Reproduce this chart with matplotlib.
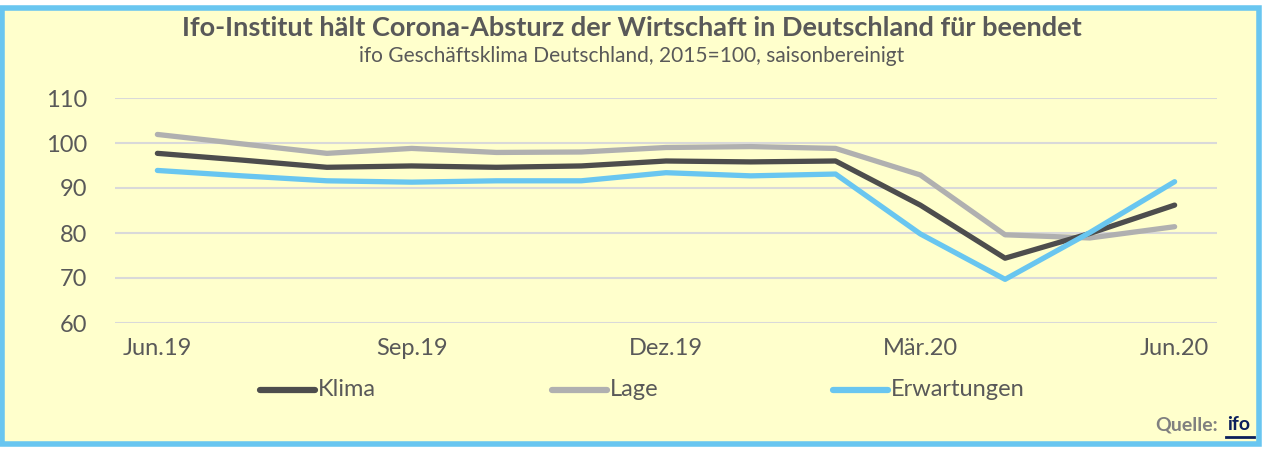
import matplotlib
matplotlib.use("Agg")
import matplotlib.pyplot as plt
from matplotlib.patches import Rectangle
from matplotlib.lines import Line2D

months = ["Jun.19", "Jul.19", "Aug.19", "Sep.19", "Okt.19", "Nov.19", "Dez.19",
          "Jan.20", "Feb.20", "Mär.20", "Apr.20", "Mai.20", "Jun.20"]
klima = [97.7, 96.2, 94.6, 94.9, 94.6, 94.9, 96.0, 95.8, 96.0, 86.2, 74.4, 79.9, 86.2]
lage = [101.9, 99.8, 97.7, 98.8, 97.9, 98.0, 99.0, 99.2, 98.8, 92.9, 79.6, 78.9, 81.4]
erwartungen = [93.9, 92.7, 91.6, 91.3, 91.6, 91.6, 93.4, 92.7, 93.1, 79.8, 69.7, 80.1, 91.4]
tick_idx = [0, 3, 6, 9, 12]
yticks = [60, 70, 80, 90, 100, 110]

FONT = ['Lato', 'DejaVu Sans']
plt.rcParams['font.family'] = FONT
TXT = "#595959"
BG = "#FFFFCC"

fig = plt.figure(figsize=(12.63, 4.5), dpi=100)
fig.patch.set_facecolor("white")
fig.patches.append(Rectangle((2.5/1263, 6/450), 1256/1263, 436/450, transform=fig.transFigure,
                             facecolor=BG, edgecolor="#69C6F0", linewidth=4, zorder=-5))

ax = fig.add_axes([115/1263, (450-323)/450, (1217-115)/1263, 225/450], zorder=2)
ax.set_facecolor("none")
x = list(range(len(months)))
ax.plot(x, klima, color="#4D4D4D", lw=3.8, solid_capstyle="round", clip_on=False, zorder=3)
ax.plot(x, lage, color="#B0B0B0", lw=3.8, solid_capstyle="round", clip_on=False, zorder=2)
ax.plot(x, erwartungen, color="#69C6F0", lw=3.8, solid_capstyle="round", clip_on=False, zorder=4)
ax.set_xlim(-0.5, len(months) - 0.5)
ax.set_ylim(60, 110)
ax.set_yticks(yticks)
ax.set_xticks(tick_idx)
ax.set_xticklabels([months[i] for i in tick_idx])
ax.grid(axis="y", color="#D9D9D9", lw=1.5)
ax.set_axisbelow(True)
for s in ax.spines.values():
    s.set_visible(False)
ax.tick_params(length=0, labelsize=17, colors=TXT)
ax.tick_params(axis="x", pad=11)
ax.tick_params(axis="y", pad=20)

fig.text(0.5, 1 - 28/450, "Ifo-Institut hält Corona-Absturz der Wirtschaft in Deutschland für beendet",
         ha="center", va="center", fontsize=19.5, fontweight="bold", color=TXT)
fig.text(0.5, 1 - 56/450, "ifo Geschäftsklima Deutschland, 2015=100, saisonbereinigt",
         ha="center", va="center", fontsize=15, color=TXT)

for (c, lab, x0) in zip(["#4D4D4D", "#B0B0B0", "#69C6F0"], ["Klima", "Lage", "Erwartungen"], [260, 552, 833]):
    fig.lines.append(Line2D([x0/1263, (x0+55)/1263], [1-390/450]*2, transform=fig.transFigure,
                            color=c, lw=4.5, solid_capstyle="round"))
    fig.text((x0+58)/1263, 1-390/450, lab, ha="left", va="center", fontsize=17, color=TXT)

fig.text(1218/1263, 1-425/450, "Quelle:", ha="right", va="center", fontsize=14,
         fontweight="bold", color="#808080")
fig.text(1227/1263, 1-425/450, "ifo", ha="left", va="center", fontsize=14,
         fontweight="bold", color="#0B1F5C")
fig.lines.append(Line2D([1226/1263, 1254/1263], [1-437/450]*2, transform=fig.transFigure,
                        color="#0B1F5C", lw=2))

fig.savefig("out.png", dpi=100, facecolor="white")
